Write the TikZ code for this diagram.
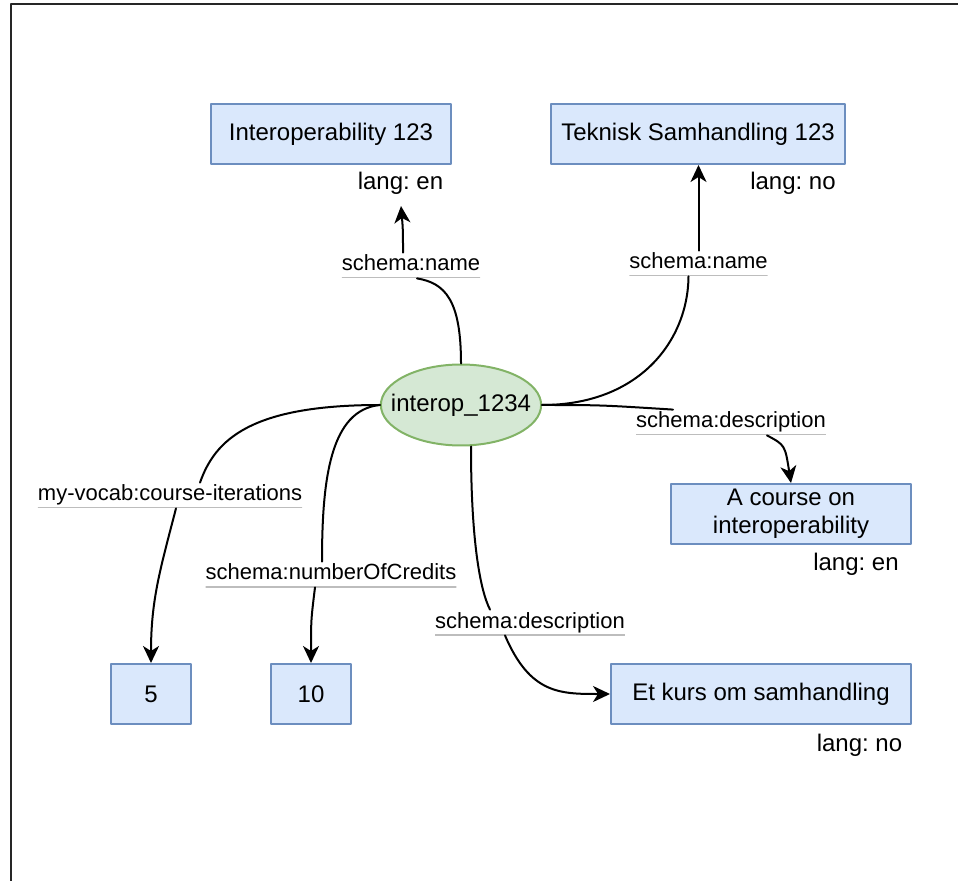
\documentclass[tikz,border=0pt]{standalone}
\usepackage{fontspec}
\setmainfont{Liberation Sans}
\usepackage{tikz}
\usetikzlibrary{arrows.meta}
\usetikzlibrary{shapes.geometric}
\definecolor{boxfill}{HTML}{DAE8FC}
\definecolor{boxline}{HTML}{6C8EBF}
\definecolor{ellfill}{HTML}{D5E8D4}
\definecolor{ellline}{HTML}{82B366}
\definecolor{ruleline}{HTML}{BDBDBD}
\frenchspacing
\tikzset{
  valbox/.style={draw=boxline,fill=boxfill,line width=1pt,inner sep=0pt,
    minimum height=30pt,align=center,font=\fontsize{12}{14}\selectfont},
  resnode/.style={ellipse,draw=ellline,fill=ellfill,line width=1pt,inner xsep=-6.7pt,inner ysep=8pt,
    minimum width=80pt,minimum height=40.5pt,font=\fontsize{12}{14}\selectfont},
  edgelbl/.style={fill=white,inner xsep=0pt,inner ysep=1pt,text height=8pt,text depth=2.5pt,
    font=\fontsize{11}{13}\selectfont,
    path picture={\draw[ruleline,line width=1.4pt] (path picture bounding box.south west) -- (path picture bounding box.south east);}},
  langlbl/.style={inner sep=0pt,anchor=base,font=\fontsize{12}{14}\selectfont},
  rel/.style={line width=1pt}
}
\begin{document}
\begin{tikzpicture}[line cap=round,line join=round,>={Stealth[length=8.5pt,width=8pt,inset=2.5pt]},x=0.5pt,y=-0.5pt]
\useasboundingbox (0,0) rectangle (958,881);
\draw[line width=1.3pt,color=black!85] (11,881) -- (11,4) -- (958,4);
% resource and values
\node[resnode] (int) at (461,405) {interop\_1234};
\node[valbox,minimum width=120pt] (nameEn) at (331,134) {Interoperability 123};
\node[valbox,minimum width=147pt] (nameNo) at (698,134) {Teknisk Samhandling 123};
\node[valbox,minimum width=120pt] (descEn) at (791,514) {A course on\\interoperability};
\node[valbox,minimum width=40pt] (iter) at (151,694) {5};
\node[valbox,minimum width=40pt] (credits) at (311,694) {10};
\node[valbox,minimum width=150pt] (descNo) at (761,694) {Et kurs om samhandling};
\node[langlbl] (langA) at (400.5,190) {lang: en};
\node[langlbl] (langB) at (793,190) {lang: no};
\node[langlbl] (langC) at (856,570) {lang: en};
\node[langlbl] (langD) at (859.5,751) {lang: no};
\coordinate (tipA) at (401,206);
% edge labels
\node[edgelbl] (lblNameEn) at (411,265.5) {schema:name};
\node[edgelbl] (lblNameNo) at (698.5,263.5) {schema:name};
\node[edgelbl] (lblDescEn) at (731,422.5) {schema:description};
\node[edgelbl] (lblIter) at (170,495.5) {my-vocab:course-iterations};
\node[edgelbl] (lblCredits) at (331,574.5) {schema:numberOfCredits};
\node[edgelbl] (lblDescNo) at (530,622.5) {schema:description};
% connectors
\draw[rel] (int.north) .. controls (461,300) and (445,283) .. ([xshift=3pt]lblNameEn.south);
\draw[rel,->] ([xshift=-4pt]lblNameEn.north) .. controls (403,230) .. (tipA);
\draw[rel] (int.east) .. controls (640,405) and (688,340) .. ([xshift=-5pt]lblNameNo.south);
\draw[rel,->] (lblNameNo.north) -- (lblNameNo.north |- nameNo.south);
\draw[rel] (int.east) .. controls (600,405) .. ([xshift=-29pt]lblDescEn.north);
\draw[rel,->] ([xshift=18pt]lblDescEn.south) .. controls (785,445) .. (descEn.north);
\draw[rel] (int.west) .. controls (250,405) and (215,440) .. ([xshift=15pt]lblIter.north);
\draw[rel,->] ([xshift=3pt]lblIter.south) .. controls (160,570) and (151,600) .. (iter.north);
\draw[rel] (int.west) .. controls (330,410) and (322,480) .. ([xshift=-4.5pt]lblCredits.north);
\draw[rel,->] ([xshift=-8pt]lblCredits.south) .. controls (311,620) .. (credits.north);
\draw[rel] ([xshift=5pt]int.south) .. controls (471,540) and (480,590) .. ([xshift=-20pt]lblDescNo.north);
\draw[rel,->] ([xshift=-12.5pt]lblDescNo.south) .. controls (530,694) and (560,694) .. (descNo.west);
\end{tikzpicture}
\end{document}
